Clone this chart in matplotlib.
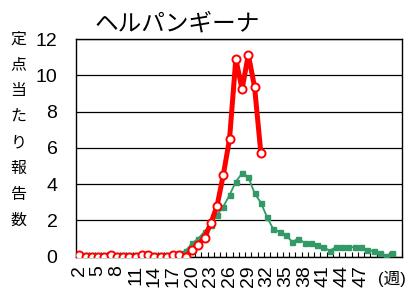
import matplotlib
matplotlib.use("Agg")
import matplotlib.pyplot as plt
import matplotlib.transforms as mtransforms
import numpy as np

# ---- data ----
title = "ヘルパンギーナ"
ylabel_chars = list("定点当たり報告数")
x_tick_weeks = [2, 5, 8, 11, 14, 17, 20, 23, 26, 29, 32, 35, 38, 41, 44, 47]
x_unit_label = "(週)"
y_ticks = [0, 2, 4, 6, 8, 10, 12]

red_weeks = list(range(2, 32))
red_values = [0.1, 0.0, 0.0, 0.0, 0.0, 0.1, 0.0, 0.0, 0.0, 0.0,
              0.1, 0.1, 0.0, 0.0, 0.0, 0.1, 0.1, 0.0, 0.35, 0.64,
              1.05, 1.84, 2.8, 4.5, 6.5, 10.9, 9.23, 11.14, 9.34, 5.72]

green_weeks = list(range(2, 53))
green_values = [0.1, 0.1, 0.1, 0.1, 0.1, 0.1, 0.1, 0.1, 0.1, 0.1,
                0.1, 0.1, 0.1, 0.1, 0.1, 0.15, 0.2, 0.33, 0.74, 1.0,
                1.38, 1.75, 2.3, 2.76, 3.4, 4.13, 4.6, 4.4, 3.49, 2.98,
                2.17, 1.51, 1.38, 1.18, 0.83, 0.98, 0.77, 0.77, 0.64, 0.52,
                0.33, 0.53, 0.53, 0.53, 0.53, 0.52, 0.37, 0.31, 0.22, 0.04,
                0.22]

W, H = 407, 289
fig = plt.figure(figsize=(W / 100, H / 100), dpi=100)
fig.patch.set_facecolor("white")
ax = fig.add_axes([76.2 / W, 32.3 / H, 325.5 / W, 217.7 / H])

num_font = ["Liberation Sans", "Noto Sans CJK JP"]
jp_font = ["Noto Sans CJK JP", "DejaVu Sans"]

# gridlines
ax.set_ylim(0, 12)
ax.set_xlim(1.5, 53.5)
ax.set_yticks(y_ticks)
ax.yaxis.grid(True, color="black", linewidth=0.9)
ax.set_axisbelow(True)

# series
ax.plot(green_weeks, green_values, color="#339966", linewidth=1.3,
        marker="s", markersize=3.6, markerfacecolor="#339966",
        markeredgecolor="#339966", zorder=3)
ax.plot(red_weeks, red_values, color="#ff0000", linewidth=3.6,
        marker="o", markersize=5.8, markerfacecolor="white",
        markeredgecolor="#ff0000", markeredgewidth=1.4, zorder=4)

for s in ax.spines.values():
    s.set_color("black")
    s.set_linewidth(1.0)

# y ticks
ax.tick_params(axis="y", length=0, pad=13.5)
for lab in ax.get_yticklabels():
    lab.set_fontfamily(num_font)
    lab.set_fontsize(14)

# x ticks
ax.set_xticks(x_tick_weeks)
ax.set_xticklabels([str(w) for w in x_tick_weeks], rotation=90,
                   fontsize=14, family=num_font)
ax.tick_params(axis="x", which="major", length=0, pad=6)
ax.set_xticks(np.arange(1.5, 54, 1.0), minor=True)
ax.tick_params(axis="x", which="minor", direction="in", length=3.5,
               width=0.8, color="black")

# unit label
trans = mtransforms.blended_transform_factory(ax.transData, fig.transFigure)
ax.text(51.9, 1 - 279 / H, x_unit_label, transform=trans, ha="center",
        va="center", fontsize=12, family=num_font)

# title
fig.text(95 / W, 1 - 24 / H, title, ha="left", va="center",
         fontsize=17, family=jp_font)

# vertical y label
for i, ch in enumerate(ylabel_chars):
    fig.text(18.5 / W, 1 - (39 + 25.9 * i) / H, ch, ha="center",
             va="center", fontsize=11.5, family=jp_font)

fig.savefig("out.png", dpi=100, facecolor="white")
